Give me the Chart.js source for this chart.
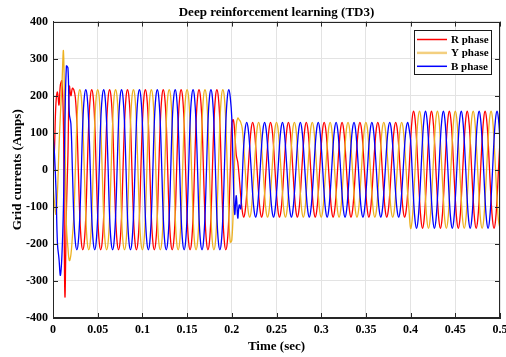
<!DOCTYPE html>
<html>
<head>
<meta charset="utf-8">
<script src="https://cdn.jsdelivr.net/npm/chart.js@4.4.1/dist/chart.umd.min.js"></script>
<style>
html,body{margin:0;padding:0;background:#ffffff;}
#wrap{width:506px;height:357px;}
</style>
</head>
<body>
<div id="wrap"><canvas id="c" width="506" height="357"></canvas></div>
<script>
// Sample times (s)
const times = [
0,0.0017,0.0033,0.005,0.0067,0.0083,
0.01,0.0117,0.0133,0.015,0.0167,0.0183,
0.02,0.0217,0.0233,0.025,0.0267,0.0283,
0.03,0.0317,0.0333,0.035,0.0367,0.0383,
0.04,0.0417,0.0433,0.045,0.0467,0.0483,
0.05,0.0517,0.0533,0.055,0.0567,0.0583,
0.06,0.0617,0.0633,0.065,0.0667,0.0683,
0.07,0.0717,0.0733,0.075,0.0767,0.0783,
0.08,0.0817,0.0833,0.085,0.0867,0.0883,
0.09,0.0917,0.0933,0.095,0.0967,0.0983,
0.1,0.1017,0.1033,0.105,0.1067,0.1083,
0.11,0.1117,0.1133,0.115,0.1167,0.1183,
0.12,0.1217,0.1233,0.125,0.1267,0.1283,
0.13,0.1317,0.1333,0.135,0.1367,0.1383,
0.14,0.1417,0.1433,0.145,0.1467,0.1483,
0.15,0.1517,0.1533,0.155,0.1567,0.1583,
0.16,0.1617,0.1633,0.165,0.1667,0.1683,
0.17,0.1717,0.1733,0.175,0.1767,0.1783,
0.18,0.1817,0.1833,0.185,0.1867,0.1883,
0.19,0.1917,0.1933,0.195,0.1967,0.1983,
0.2,0.2017,0.2033,0.205,0.2067,0.2083,
0.21,0.2117,0.2133,0.215,0.2167,0.2183,
0.22,0.2217,0.2233,0.225,0.2267,0.2283,
0.23,0.2317,0.2333,0.235,0.2367,0.2383,
0.24,0.2417,0.2433,0.245,0.2467,0.2483,
0.25,0.2517,0.2533,0.255,0.2567,0.2583,
0.26,0.2617,0.2633,0.265,0.2667,0.2683,
0.27,0.2717,0.2733,0.275,0.2767,0.2783,
0.28,0.2817,0.2833,0.285,0.2867,0.2883,
0.29,0.2917,0.2933,0.295,0.2967,0.2983,
0.3,0.3017,0.3033,0.305,0.3067,0.3083,
0.31,0.3117,0.3133,0.315,0.3167,0.3183,
0.32,0.3217,0.3233,0.325,0.3267,0.3283,
0.33,0.3317,0.3333,0.335,0.3367,0.3383,
0.34,0.3417,0.3433,0.345,0.3467,0.3483,
0.35,0.3517,0.3533,0.355,0.3567,0.3583,
0.36,0.3617,0.3633,0.365,0.3667,0.3683,
0.37,0.3717,0.3733,0.375,0.3767,0.3783,
0.38,0.3817,0.3833,0.385,0.3867,0.3883,
0.39,0.3917,0.3933,0.395,0.3967,0.3983,
0.4,0.4017,0.4033,0.405,0.4067,0.4083,
0.41,0.4117,0.4133,0.415,0.4167,0.4183,
0.42,0.4217,0.4233,0.425,0.4267,0.4283,
0.43,0.4317,0.4333,0.435,0.4367,0.4383,
0.44,0.4417,0.4433,0.445,0.4467,0.4483,
0.45,0.4517,0.4533,0.455,0.4567,0.4583,
0.46,0.4617,0.4633,0.465,0.4667,0.4683,
0.47,0.4717,0.4733,0.475,0.4767,0.4783,
0.48,0.4817,0.4833,0.485,0.4867,0.4883,
0.49,0.4917,0.4933,0.495,0.4967,0.4983,
0.5
];

// R phase current (A)
const rPhase = [
-30,60,180,210,175,230,240,120,-340,-110,40,225,
200,220,216,195,125,0,-125,-195,-216,-195,-125,0,
125,195,216,195,125,0,-125,-195,-216,-195,-125,0,
125,195,216,195,125,0,-125,-195,-216,-195,-125,0,
125,195,216,195,125,0,-125,-195,-216,-195,-125,0,
125,195,216,195,125,0,-125,-195,-216,-195,-125,0,
125,195,216,195,125,0,-125,-195,-216,-195,-125,0,
125,195,216,195,125,0,-125,-195,-216,-195,-125,0,
125,195,216,195,125,0,-125,-195,-216,-195,-125,0,
125,195,216,195,125,0,-125,-195,-216,-195,-125,0,
125,135,100,40,20,-20,-70,-111,-128,-111,-64,0,
64,111,128,111,64,0,-64,-111,-128,-111,-64,0,
64,111,128,111,64,0,-64,-111,-128,-111,-64,0,
64,111,128,111,64,0,-64,-111,-128,-111,-64,0,
64,111,128,111,64,0,-64,-111,-128,-111,-64,0,
64,111,128,111,64,0,-64,-111,-128,-111,-64,0,
64,111,128,111,64,0,-64,-111,-128,-111,-64,0,
64,111,128,111,64,0,-64,-111,-128,-111,-64,0,
64,111,128,111,64,0,-64,-111,-128,-111,-64,0,
64,111,128,111,64,0,-64,-111,-128,-111,-64,0,
79,137,158,137,79,0,-79,-137,-158,-137,-79,0,
79,137,158,137,79,0,-79,-137,-158,-137,-79,0,
79,137,158,137,79,0,-79,-137,-158,-137,-79,0,
79,137,158,137,79,0,-79,-137,-158,-137,-79,0,
79,137,158,137,79,0,-79,-137,-158,-137,-79,0,
79
];

// Y phase current (A)
const yPhase = [
-40,-90,-120,-60,60,150,230,320,100,-150,-210,-245,
-230,-180,-125,0,125,195,216,195,125,0,-125,-195,
-216,-195,-125,0,125,195,216,195,125,0,-125,-195,
-216,-195,-125,0,125,195,216,195,125,0,-125,-195,
-216,-195,-125,0,125,195,216,195,125,0,-125,-195,
-216,-195,-125,0,125,195,216,195,125,0,-125,-195,
-216,-195,-125,0,125,195,216,195,125,0,-125,-195,
-216,-195,-125,0,125,195,216,195,125,0,-125,-195,
-216,-195,-125,0,125,195,216,195,125,0,-125,-195,
-216,-195,-125,0,125,195,216,195,125,0,-125,-195,
-190,-100,40,120,140,135,128,111,64,0,-64,-111,
-128,-111,-64,0,64,111,128,111,64,0,-64,-111,
-128,-111,-64,0,64,111,128,111,64,0,-64,-111,
-128,-111,-64,0,64,111,128,111,64,0,-64,-111,
-128,-111,-64,0,64,111,128,111,64,0,-64,-111,
-128,-111,-64,0,64,111,128,111,64,0,-64,-111,
-128,-111,-64,0,64,111,128,111,64,0,-64,-111,
-128,-111,-64,0,64,111,128,111,64,0,-64,-111,
-128,-111,-64,0,64,111,128,111,64,0,-64,-111,
-128,-111,-64,0,64,111,128,111,64,0,-64,-111,
-158,-137,-79,0,79,137,158,137,79,0,-79,-137,
-158,-137,-79,0,79,137,158,137,79,0,-79,-137,
-158,-137,-79,0,79,137,158,137,79,0,-79,-137,
-158,-137,-79,0,79,137,158,137,79,0,-79,-137,
-158,-137,-79,0,79,137,158,137,79,0,-79,-137,
-158
];

// B phase current (A)
const bPhase = [
100,40,-50,-200,-240,-285,-230,-100,120,280,275,150,
125,0,-125,-195,-216,-195,-125,0,125,195,216,195,
125,0,-125,-195,-216,-195,-125,0,125,195,216,195,
125,0,-125,-195,-216,-195,-125,0,125,195,216,195,
125,0,-125,-195,-216,-195,-125,0,125,195,216,195,
125,0,-125,-195,-216,-195,-125,0,125,195,216,195,
125,0,-125,-195,-216,-195,-125,0,125,195,216,195,
125,0,-125,-195,-216,-195,-125,0,125,195,216,195,
125,0,-125,-195,-216,-195,-125,0,125,195,216,195,
125,0,-125,-195,-216,-195,-125,0,125,195,216,195,
140,-20,-120,-70,-130,-95,-105,-20,64,111,128,111,
64,0,-64,-111,-128,-111,-64,0,64,111,128,111,
64,0,-64,-111,-128,-111,-64,0,64,111,128,111,
64,0,-64,-111,-128,-111,-64,0,64,111,128,111,
64,0,-64,-111,-128,-111,-64,0,64,111,128,111,
64,0,-64,-111,-128,-111,-64,0,64,111,128,111,
64,0,-64,-111,-128,-111,-64,0,64,111,128,111,
64,0,-64,-111,-128,-111,-64,0,64,111,128,111,
64,0,-64,-111,-128,-111,-64,0,64,111,128,111,
64,0,-64,-111,-128,-111,-64,0,64,111,128,111,
79,0,-79,-137,-158,-137,-79,0,79,137,158,137,
79,0,-79,-137,-158,-137,-79,0,79,137,158,137,
79,0,-79,-137,-158,-137,-79,0,79,137,158,137,
79,0,-79,-137,-158,-137,-79,0,79,137,158,137,
79,0,-79,-137,-158,-137,-79,0,79,137,158,137,
79
];

const seriesNames = ['R phase', 'Y phase', 'B phase'];

const FONT = '"Liberation Serif", "Times New Roman", serif';
const AXIS = '#262626';

const boxPlugin = {
  id: 'matlabBox',
  afterDraw(chart) {
    const {ctx, chartArea: a, scales: {x, y}} = chart;
    ctx.save();
    // inward tick marks on all four sides
    ctx.strokeStyle = AXIS;
    ctx.lineWidth = 1;
    ctx.beginPath();
    x.ticks.forEach(t => {
      const px = Math.round(x.getPixelForValue(t.value)) + 0.5;
      ctx.moveTo(px, a.bottom); ctx.lineTo(px, a.bottom - 5);
      ctx.moveTo(px, a.top); ctx.lineTo(px, a.top + 5);
    });
    y.ticks.forEach(t => {
      const py = Math.round(y.getPixelForValue(t.value)) + 0.5;
      ctx.moveTo(a.left, py); ctx.lineTo(a.left + 5, py);
      ctx.moveTo(a.right, py); ctx.lineTo(a.right - 5, py);
    });
    ctx.stroke();
    // box
    ctx.strokeRect(Math.round(a.left) + 0.5, Math.round(a.top) + 0.5,
                   Math.round(a.right - a.left) - 1, Math.round(a.bottom - a.top) - 1);
    // legend
    const bx = Math.round(a.right - 86), by = Math.round(a.top + 8), bw = 77, bh = 44;
    ctx.fillStyle = '#ffffff';
    ctx.fillRect(bx, by, bw, bh);
    ctx.strokeStyle = '#1a1a1a';
    ctx.strokeRect(bx + 0.5, by + 0.5, bw, bh);
    ctx.font = 'bold 11px ' + FONT;
    ctx.textBaseline = 'middle';
    ctx.textAlign = 'left';
    chart.data.datasets.forEach((d, i) => {
      const yy = by + 9.5 + i * 13.4;
      ctx.strokeStyle = d.legendColor || d.borderColor;
      ctx.lineWidth = d.legendWidth || 1.5;
      ctx.beginPath();
      ctx.moveTo(bx + 3, yy); ctx.lineTo(bx + 33, yy);
      ctx.stroke();
      ctx.fillStyle = '#000000';
      ctx.fillText(d.label, bx + 37, yy + 0.5);
    });
    ctx.restore();
  }
};

new Chart(document.getElementById('c'), {
  type: 'line',
  data: {
    labels: times,
    datasets: [
      {label: seriesNames[0], data: rPhase, borderColor: '#ff0000', legendColor: '#ff0000', legendWidth: 1.5, borderWidth: 1.3, pointRadius: 0, tension: 0.4, fill: false, order: 2},
      {label: seriesNames[1], data: yPhase, borderColor: '#edb120', legendColor: '#f3cf7f', legendWidth: 2.5, borderWidth: 1.3, pointRadius: 0, tension: 0.4, fill: false, order: 1},
      {label: seriesNames[2], data: bPhase, borderColor: '#0000ff', legendColor: '#0000ff', legendWidth: 1.5, borderWidth: 1.3, pointRadius: 0, tension: 0.4, fill: false, order: 0}
    ]
  },
  options: {
    responsive: false,
    animation: false,
    devicePixelRatio: 1,
    layout: {padding: {left: 0, right: 6, top: 0, bottom: 0}},
    plugins: {
      legend: {display: false},
      tooltip: {enabled: false},
      title: {
        display: true,
        text: 'Deep reinforcement learning (TD3)',
        color: '#000000',
        fullSize: false,
        font: {family: FONT, size: 13, weight: 'bold'},
        padding: {top: 5, bottom: 1}
      }
    },
    scales: {
      x: {
        type: 'linear',
        min: 0, max: 0.5,
        afterFit(s) { s.height = 39; s.paddingLeft = 0; s.paddingRight = 0; },
        ticks: {
          stepSize: 0.05,
          autoSkip: false,
          maxRotation: 0,
          padding: 5,
          color: '#000000',
          font: {family: FONT, size: 12, weight: 'bold'},
          callback: v => String(+Number(v).toFixed(2))
        },
        grid: {color: '#e3e3e3', lineWidth: 1, drawTicks: false},
        border: {display: true, color: AXIS, width: 1},
        title: {
          display: true, text: 'Time (sec)', color: '#000000',
          font: {family: FONT, size: 13, weight: 'bold'},
          padding: {top: 0, bottom: 3}
        }
      },
      y: {
        type: 'linear',
        min: -400, max: 400,
        afterFit(s) { s.width = 53; s.paddingTop = 0; s.paddingBottom = 0; },
        ticks: {
          stepSize: 100,
          autoSkip: false,
          padding: 5,
          color: '#000000',
          font: {family: FONT, size: 12, weight: 'bold'},
          callback: v => String(Math.round(v))
        },
        grid: {color: '#e3e3e3', lineWidth: 1, drawTicks: false},
        border: {display: true, color: AXIS, width: 1},
        title: {
          display: true, text: 'Grid currents (Amps)', color: '#000000',
          font: {family: FONT, size: 13, weight: 'bold'},
          padding: {top: 10, bottom: 0}
        }
      }
    }
  },
  plugins: [boxPlugin]
});
</script>
</body>
</html>
